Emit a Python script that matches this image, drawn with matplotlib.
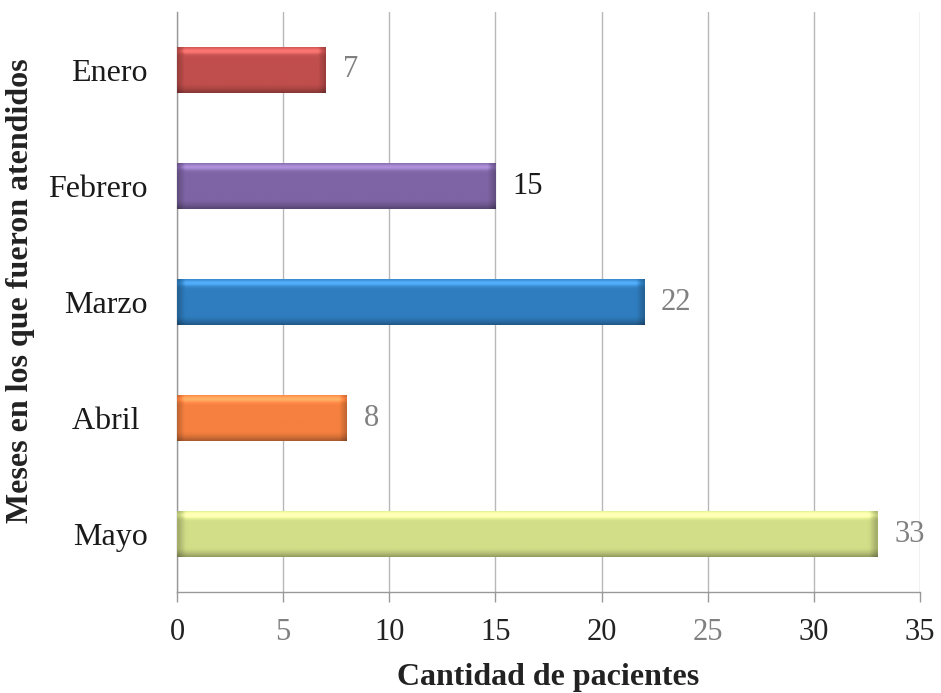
import numpy as np
import matplotlib
matplotlib.use("Agg")
import matplotlib.pyplot as plt
from matplotlib.colors import to_rgb

months = ["Enero", "Febrero", "Marzo", "Abril ", "Mayo"]
patients = [7, 15, 22, 8, 33]
bar_colors = ["#C04E4C", "#7E64A4", "#2F7DBF", "#F5803F", "#D3DE88"]
value_colors = ["#808080", "#1a1a1a", "#808080", "#808080", "#808080"]
x_ticks = [0, 5, 10, 15, 20, 25, 30, 35]
x_tick_colors = ["#222222", "#808080", "#222222", "#222222",
                 "#222222", "#808080", "#222222", "#222222"]

plt.rcParams["font.family"] = ["Liberation Serif", "DejaVu Serif"]

fig = plt.figure(figsize=(9.41, 6.93), dpi=100)
ax = fig.add_axes([0.1881, 0.1457, 0.7896, 0.8370])

ypos = np.arange(len(months))[::-1]
bars = ax.barh(ypos, patients, height=0.39, color=bar_colors,
               edgecolor="none", zorder=3)


def bevel_image(color, n_rows=60, n_cols=200, frac_end=0.03):
    """Shaded RGB image giving a bar a raised, bevelled look."""
    base = np.array(to_rgb(color))
    t = np.linspace(0, 1, n_rows)[:, None]          # 0 = top, 1 = bottom
    shade_y = 1.0 + 0.18 * np.exp(-((t - 0.08) / 0.07) ** 2) \
        - 0.30 * np.clip((t - 0.80) / 0.20, 0, 1) ** 1.5
    s = np.linspace(0, 1, n_cols)[None, :]
    shade_x = 1.0 - 0.22 * np.clip(1 - s / frac_end, 0, 1) \
        - 0.22 * np.clip((s - (1 - frac_end)) / frac_end, 0, 1)
    shade = shade_y * shade_x
    img = np.clip(base[None, None, :] * shade[:, :, None]
                  + (shade[:, :, None] > 1) * (shade[:, :, None] - 1) * 0.6,
                  0, 1)
    return img


for rect, col in zip(bars, bar_colors):
    x0, y0 = rect.get_x(), rect.get_y()
    w, h = rect.get_width(), rect.get_height()
    frac = min(0.35 / w, 0.2)
    im = ax.imshow(bevel_image(col, frac_end=frac),
                   extent=[x0, x0 + w, y0, y0 + h],
                   aspect="auto", origin="upper", zorder=4,
                   interpolation="bilinear")
    im.set_clip_path(rect)

for y, v, c in zip(ypos, patients, value_colors):
    ax.text(v + 0.8, y, str(v), va="center", ha="left",
            fontsize=22, color=c, zorder=5)

ax.set_xlim(0, 35)
ax.set_ylim(-0.5, len(months) - 0.5)
ax.set_xticks(x_ticks)
ax.set_xticklabels([str(t) for t in x_ticks], fontsize=22)
for lbl, c in zip(ax.get_xticklabels(), x_tick_colors):
    lbl.set_color(c)
ax.set_yticks(ypos)
ax.set_yticklabels(months, fontsize=23, color="#1a1a1a")

ax.grid(axis="x", color="#b8b8b8", linewidth=1.0, zorder=0)
ax.set_axisbelow(True)
ax.tick_params(axis="x", direction="out", length=7, width=1.0,
               color="#999999", pad=12)
ax.tick_params(axis="y", length=0, pad=21)

for side in ("top", "right"):
    ax.spines[side].set_visible(False)
for side in ("left", "bottom"):
    ax.spines[side].set_color("#999999")
    ax.spines[side].set_linewidth(1.0)

ax.set_xlabel("Cantidad de pacientes", fontsize=23, fontweight="bold",
              color="#222222", va="center")
ax.set_ylabel("Meses en los que fueron atendidos", fontsize=23,
              fontweight="bold", color="#222222", va="center")
ax.xaxis.set_label_coords((177 + 920) / 2 / 941, 1 - 677 / 693,
                          transform=fig.transFigure)
ax.yaxis.set_label_coords(21 / 941, 1 - 291 / 693, transform=fig.transFigure)

fig.savefig("out.png", dpi=100, facecolor="white")
